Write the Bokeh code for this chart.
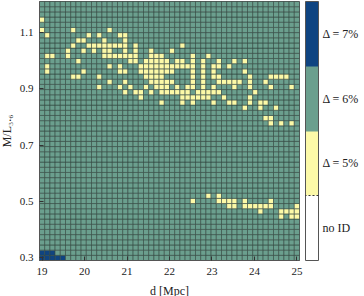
import numpy as np
from bokeh.plotting import figure
from bokeh.models import (ColorBar, LinearColorMapper, FixedTicker,
                          ColumnDataSource, Range1d)
from bokeh.embed import file_html
from bokeh.resources import INLINE

# ---------------- data ----------------
d_values = np.linspace(19.0, 25.0, 50)     # distance d [Mpc]
ml_values = np.linspace(0.3, 1.2, 50)      # M/L_3.6

class_labels = ["no ID", "Δ = 5%", "Δ = 6%", "Δ = 7%"]
class_colors = ["#ffffff", "#fcf9a8", "#6b9f8e", "#0f4481"]

# cells with Δ = 5% : {M/L row index: [d column indices]}
delta5_cells = {
    46: [0],
    44: [0, 6, 13],
    43: [1, 9, 11, 15, 16],
    42: [7, 8, 12, 16],
    41: [6, 9, 10, 11, 12, 13, 14, 15, 16, 18, 27],
    40: [5, 8, 10, 12, 13, 16, 18, 21, 25],
    39: [1, 2, 5, 12, 13, 14, 15, 16, 17, 18, 21, 22, 23, 29, 32],
    38: [7, 17, 18, 20, 21, 22, 23, 24, 26, 27, 29, 31, 34, 37, 39],
    37: [1, 13, 15, 19, 20, 21, 22, 23, 24, 25, 26, 27, 28, 29, 31, 33, 34, 36],
    36: [1, 8, 15, 16, 19, 20, 21, 22, 23, 24, 25, 29, 31, 33, 39],
    35: [6, 7, 11, 20, 21, 22, 23, 29, 31, 33, 34, 40, 44, 45, 46, 47],
    34: [13, 16, 21, 22, 23, 24, 25, 29, 31, 34, 35, 36, 37, 38, 40, 43],
    33: [11, 15, 17, 20, 22, 23, 24, 26, 28, 29, 31, 33, 37, 40, 44, 48],
    32: [16, 18, 19, 21, 23, 24, 25, 26, 27, 28, 30, 31, 32, 33, 34, 41],
    31: [19, 27, 28, 29, 30, 31, 32, 35, 40],
    30: [23, 27, 29, 33, 36, 37, 40, 42, 43],
    29: [39, 42, 45],
    27: [43, 44],
    26: [44, 46, 48],
    12: [32, 34],
    11: [29, 34, 35, 36, 37, 39, 44],
    10: [36, 37, 39, 40, 41, 42, 43, 44, 49],
    9: [42, 46, 47, 48, 49],
    8: [46, 48, 49],
}
# cells with Δ = 7%
delta7_cells = {1: [0, 1, 2], 0: [0, 1, 2, 3, 4]}
default_class = 2   # Δ = 6% everywhere else

x_ticks = [19, 20, 21, 22, 23, 24, 25]
y_ticks = [0.3, 0.5, 0.7, 0.9, 1.1]
x_label = "d [Mpc]"
y_label = "M/L₃.₆"

# ---------------- build grid ----------------
codes = np.full((len(ml_values), len(d_values)), default_class)
for j, cols in delta5_cells.items():
    codes[j, cols] = 1
for j, cols in delta7_cells.items():
    codes[j, cols] = 3

jj, ii = np.meshgrid(np.arange(len(ml_values)), np.arange(len(d_values)), indexing="ij")
src = ColumnDataSource(dict(
    x=d_values[ii.ravel()],
    y=ml_values[jj.ravel()],
    color=[class_colors[c] for c in codes.ravel()],
))

dx = d_values[1] - d_values[0]
dy = ml_values[1] - ml_values[0]
x0, x1 = d_values[0] - dx / 2, d_values[-1] + dx / 2
y0, y1 = ml_values[0] - dy / 2, ml_values[-1] + dy / 2

p = figure(frame_width=260, frame_height=259, output_backend="svg",
           toolbar_location=None,
           x_range=Range1d(x0, x1), y_range=Range1d(y0, y1),
           min_border_left=40, min_border_right=0, min_border_top=5,
           min_border_bottom=0)
p.styles = {"margin": "-4px -4px -4px -4px"}
p.outline_line_color = "#555555"
p.grid.visible = False

p.rect(x="x", y="y", width=dx, height=dy, source=src, fill_color="color",
       line_color="#33463f", line_width=0.8, line_alpha=0.75)

serif = "Liberation Serif"
for ax in (p.xaxis[0], p.yaxis[0]):
    ax.axis_line_color = "#555555"
    ax.major_tick_line_color = "#333333"
    ax.major_tick_in = 4
    ax.major_tick_out = 0
    ax.minor_tick_line_color = None
    ax.major_label_text_font = serif
    ax.major_label_text_font_size = "11px"
    ax.major_label_text_color = "#222222"
    ax.axis_label_text_font = serif
    ax.axis_label_text_font_size = "12px"
    ax.axis_label_text_font_style = "normal"
    ax.axis_label_text_color = "#222222"
p.xaxis.major_label_standoff = 7
p.yaxis.major_label_standoff = 6
p.xaxis.ticker = FixedTicker(ticks=x_ticks)
p.yaxis.ticker = FixedTicker(ticks=y_ticks)
p.xaxis.axis_label = x_label
p.yaxis.axis_label = y_label
p.xaxis.axis_label_standoff = 6
p.yaxis.axis_label_standoff = 3

mapper = LinearColorMapper(palette=class_colors, low=0, high=4)
cb = ColorBar(color_mapper=mapper,
              ticker=FixedTicker(ticks=[0.5, 1.5, 2.5, 3.5], minor_ticks=[1.0]),
              major_label_overrides={0.5: class_labels[0], 1.5: class_labels[1],
                                     2.5: class_labels[2], 3.5: class_labels[3]},
              width=13, padding=0, margin=0, location=(6, 0),
              bar_line_color="#555555",
              major_tick_line_color=None,
              minor_tick_in=13, minor_tick_out=0,
              minor_tick_line_color="#333333", minor_tick_line_dash="2 2",
              label_standoff=4,
              major_label_text_font=serif, major_label_text_font_size="12px",
              major_label_text_color="#222222")
p.add_layout(cb, "right")

open("out.html", "w").write(file_html(p, INLINE))
